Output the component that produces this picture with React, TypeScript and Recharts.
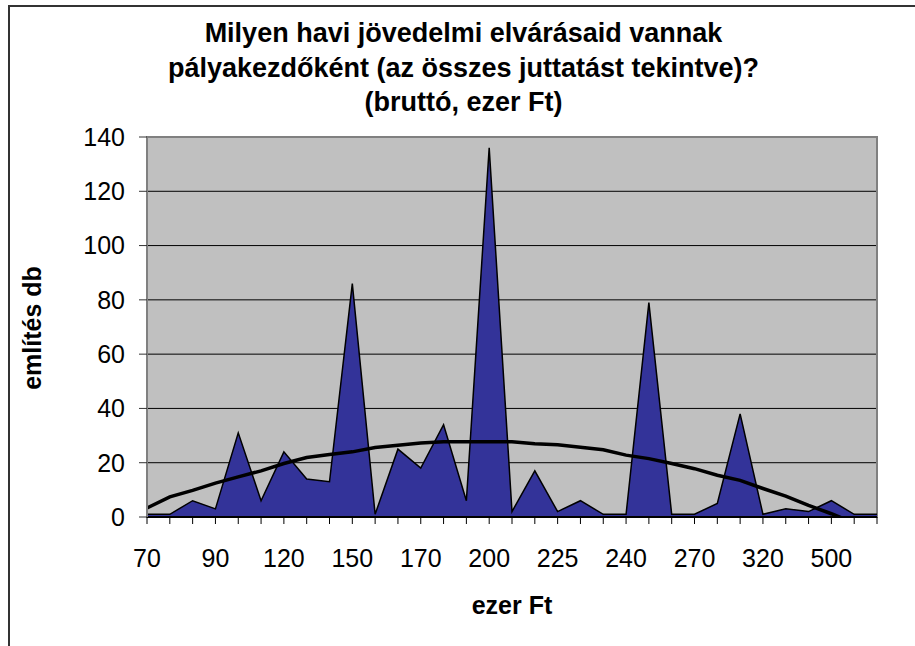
import React from 'react';
import { ComposedChart, Area, Line, XAxis, YAxis, CartesianGrid, ReferenceArea } from 'recharts';

// income categories (ezer Ft), only every third one gets a label
const categories = [
  '70', '75', '80', '90', '100', '110', '120', '130', '140', '150', '160',
  '165', '170', '180', '190', '200', '210', '220', '225', '230', '235', '240',
  '250', '260', '270', '280', '300', '320', '350', '400', '500', '600', '700',
];
const mentions = [
  1, 1, 6, 3, 31, 6, 24, 14, 13, 86, 1,
  25, 18, 34, 6, 136, 2, 17, 2, 6, 1, 1,
  79, 1, 1, 5, 38, 1, 3, 2, 6, 1, 1,
];
// polynomial trendline (runs below 0 at the end, clipped)
const trend = [
  3.3, 7.4, 9.8, 12.5, 14.8, 17, 19.7, 21.9, 23, 24, 25.6,
  26.4, 27.3, 27.7, 27.7, 27.7, 27.7, 27, 26.6, 25.7, 24.8, 22.8,
  21.5, 19.7, 17.8, 15.4, 13.5, 10.5, 7.7, 4.3, 1.2, -2.2, null,
];
const yTicks = [0, 20, 40, 60, 80, 100, 120, 140];

const data = categories.map((c, i) => ({ cat: c, db: mentions[i], trend: trend[i] }));

const FONT = '"Liberation Sans", Arial, sans-serif';

const XTick = (props: any) => {
  const { x, y, payload } = props;
  const i = payload?.index ?? props.index;
  return (
    <g>
      <line x1={x} y1={y} x2={x} y2={y + 7} stroke="#000" strokeWidth={1} />
      {i % 3 === 0 && (
        <text x={x} y={y + 50} textAnchor="middle" fontSize={25} fontFamily={FONT} fill="#000">
          {payload.value}
        </text>
      )}
    </g>
  );
};

export default function App() {
  return (
    <div
      style={{
        position: 'absolute', left: 0, top: 0, width: 915, height: 646,
        overflow: 'hidden', background: '#fff', fontFamily: FONT,
      }}
    >
      <div
        style={{
          position: 'absolute', left: 8, top: 5, width: 1000, height: 1000,
          border: '2px solid #333', boxSizing: 'border-box',
        }}
      />
      <div
        style={{
          position: 'absolute', left: 9, top: 16, width: 909, textAlign: 'center',
          fontWeight: 'bold', fontSize: 27, lineHeight: '34.5px', color: '#000',
        }}
      >
        Milyen havi jövedelmi elvárásaid vannak
        <br />
        pályakezdőként (az összes juttatást tekintve)?
        <br />
        (bruttó, ezer Ft)
      </div>

      <div style={{ position: 'absolute', left: 0, top: 0 }}>
        <ComposedChart
          width={915}
          height={646}
          data={data}
          margin={{ top: 137, right: 38, bottom: 89, left: 87 }}
        >
          <CartesianGrid vertical={false} stroke="#000" fill="#C0C0C0" fillOpacity={1} />
          <ReferenceArea x1="70" x2="700" y1={0} y2={140} fill="none" stroke="#808080" strokeWidth={2} />
          <XAxis
            dataKey="cat"
            type="category"
            scale="point"
            interval={0}
            height={40}
            tickLine={false}
            tickSize={0}
            tickMargin={0}
            tick={<XTick />}
            axisLine={{ stroke: '#000', strokeWidth: 2 }}
          />
          <YAxis
            width={60}
            domain={[0, 140]}
            ticks={yTicks}
            allowDataOverflow
            interval={0}
            tickSize={8}
            tickMargin={14}
            tickLine={{ stroke: '#333' }}
            axisLine={{ stroke: '#808080', strokeWidth: 2 }}
            tick={{ fill: '#000', fontSize: 25, fontFamily: FONT }}
          />
          <Area
            type="linear"
            dataKey="db"
            fill="#333399"
            fillOpacity={1}
            stroke="#000"
            strokeWidth={1.5}
            isAnimationActive={false}
          />
          <Line
            type="linear"
            dataKey="trend"
            stroke="#000"
            strokeWidth={3.5}
            dot={false}
            activeDot={false}
            isAnimationActive={false}
          />
        </ComposedChart>
      </div>

      <div
        style={{
          position: 'absolute', left: 32, top: 328, transform: 'translate(-50%, -50%) rotate(-90deg)',
          whiteSpace: 'nowrap', fontWeight: 'bold', fontSize: 25, color: '#000',
        }}
      >
        említés db
      </div>
      <div
        style={{
          position: 'absolute', left: 512, top: 605, transform: 'translate(-50%, -50%)',
          whiteSpace: 'nowrap', fontWeight: 'bold', fontSize: 25, color: '#000',
        }}
      >
        ezer Ft
      </div>
    </div>
  );
}
